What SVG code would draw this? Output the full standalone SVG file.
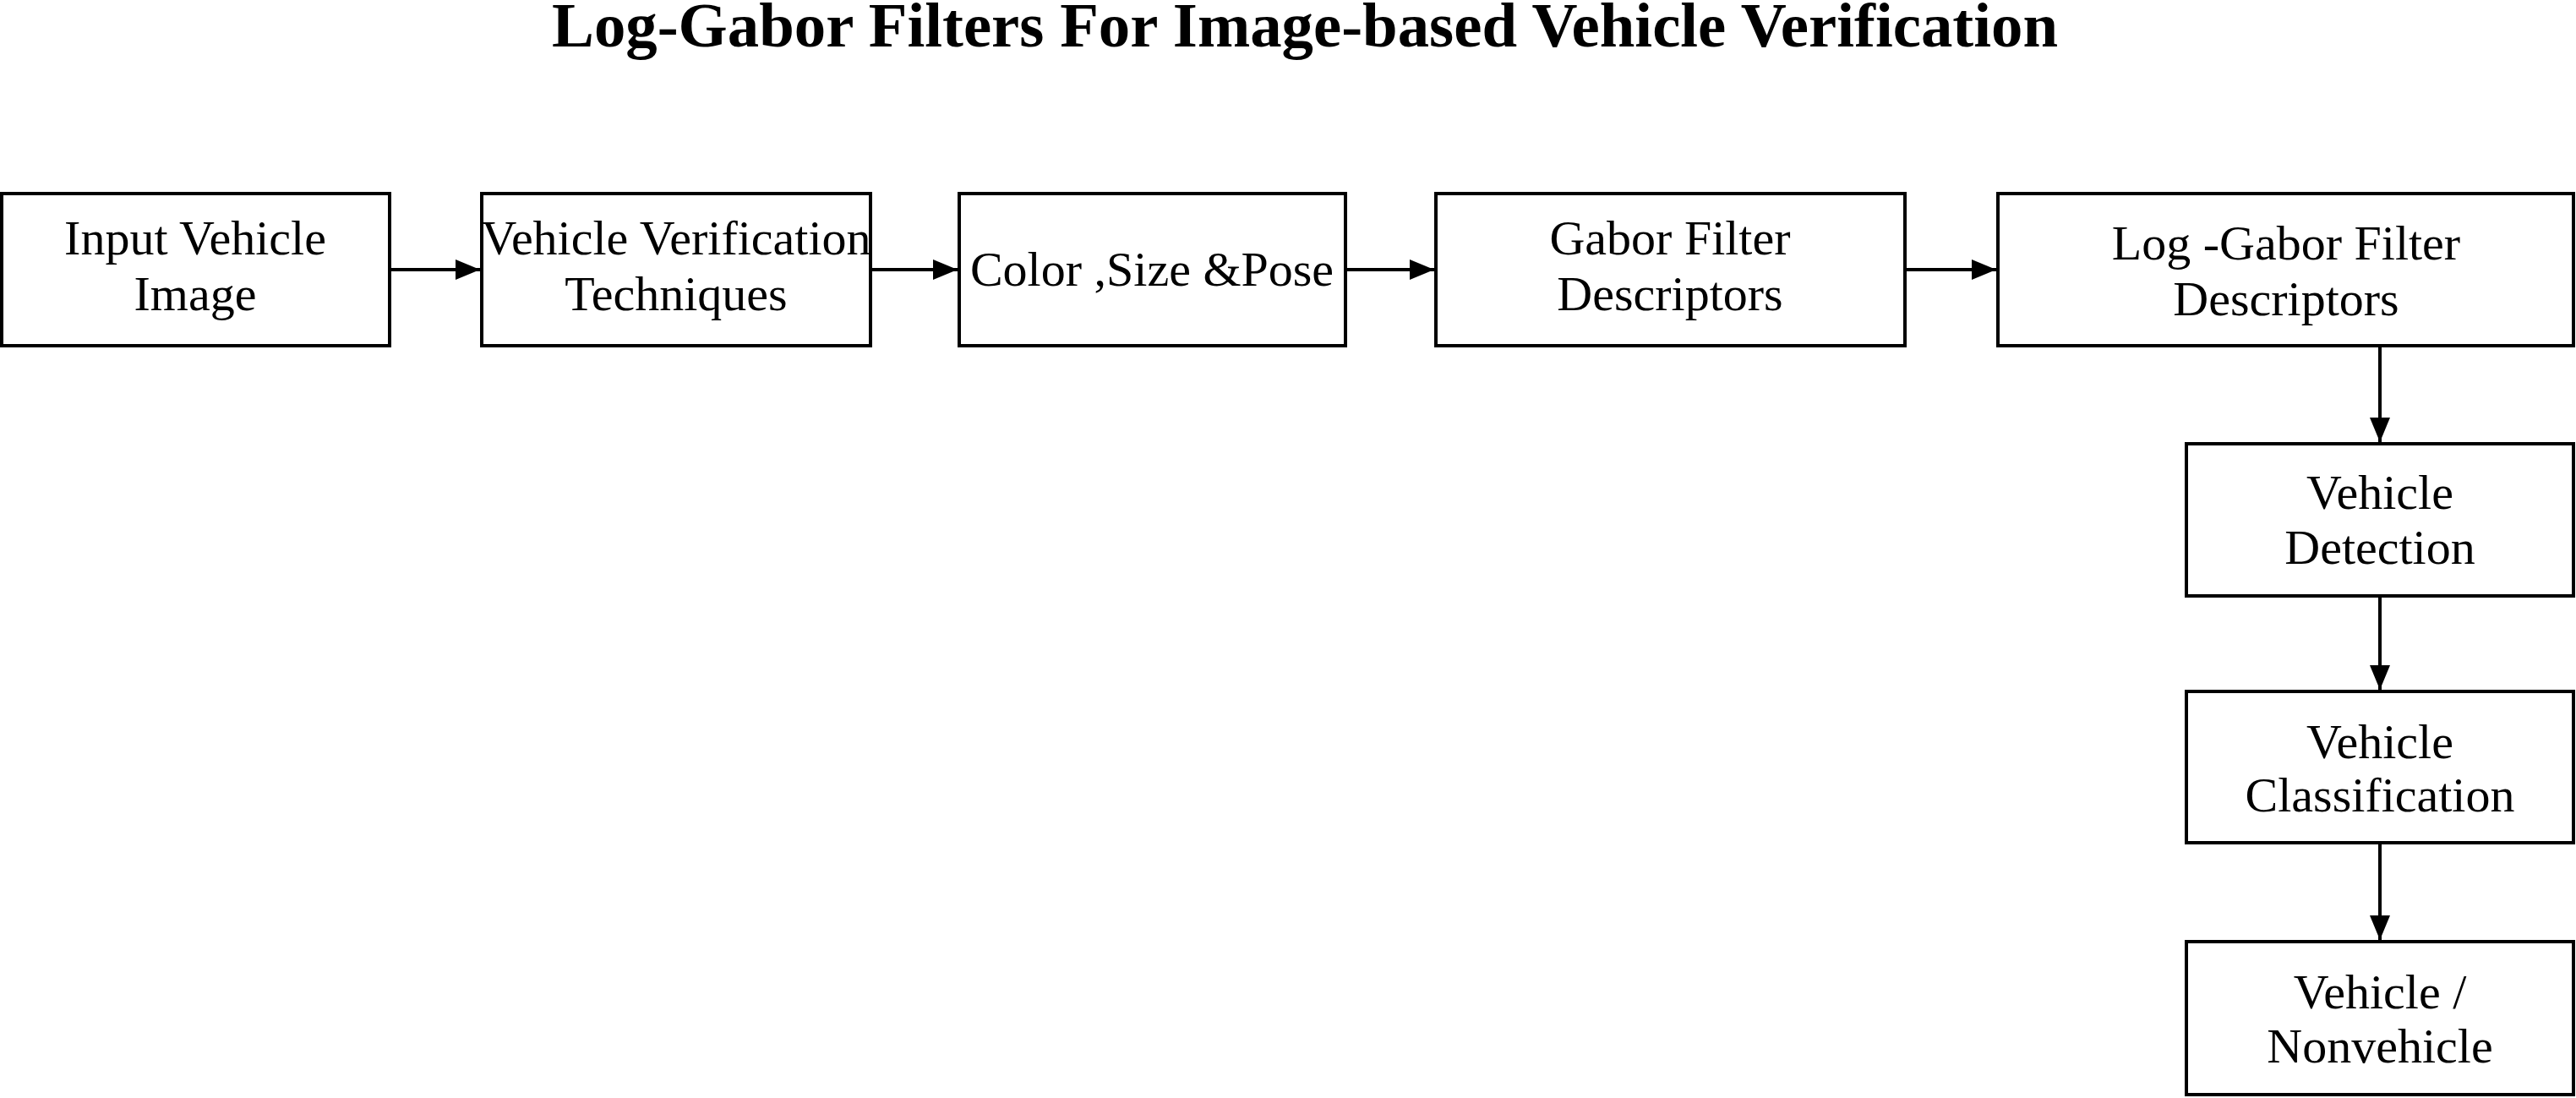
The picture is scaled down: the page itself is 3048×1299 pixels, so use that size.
<svg xmlns="http://www.w3.org/2000/svg" width="3048" height="1299" viewBox="0 0 3048 1299">
<style>
.box{fill:#fff;stroke:#000;stroke-width:4}
.t{font-family:"Liberation Serif","Times New Roman",serif;font-size:58px;fill:#000;text-anchor:middle}
.title{font-family:"Liberation Serif","Times New Roman",serif;font-size:73px;font-weight:bold;fill:#000;text-anchor:middle}
.c{stroke:#000;stroke-width:4;fill:none}
</style>
<defs>
<marker id="ah" markerUnits="userSpaceOnUse" markerWidth="30" markerHeight="24" refX="29" refY="12" orient="auto">
<path d="M0,0 L29,12 L0,24 Z" fill="#000"/>
</marker>
</defs>
<rect width="3048" height="1299" fill="#fff"/>
<text class="title" x="1544" y="55" textLength="1782" lengthAdjust="spacingAndGlyphs">Log-Gabor Filters For Image-based Vehicle Verification</text>
<g id="connectors">
<line class="c" x1="461" y1="319" x2="568" y2="319" marker-end="url(#ah)"/>
<line class="c" x1="1030" y1="319" x2="1133" y2="319" marker-end="url(#ah)"/>
<line class="c" x1="1592" y1="319" x2="1697" y2="319" marker-end="url(#ah)"/>
<line class="c" x1="2254" y1="319" x2="2362" y2="319" marker-end="url(#ah)"/>
<line class="c" x1="2816" y1="409" x2="2816" y2="523" marker-end="url(#ah)"/>
<line class="c" x1="2816" y1="705" x2="2816" y2="816" marker-end="url(#ah)"/>
<line class="c" x1="2816" y1="997" x2="2816" y2="1112" marker-end="url(#ah)"/>
</g>
<g id="n1">
<rect class="box" x="2" y="229" width="459" height="180"/>
<text class="t" x="231" y="301">Input Vehicle</text>
<text class="t" x="231" y="367">Image</text>
</g>
<g id="n2">
<rect class="box" x="570" y="229" width="460" height="180"/>
<text class="t" x="800" y="301">Vehicle Verification</text>
<text class="t" x="800" y="367">Techniques</text>
</g>
<g id="n3">
<rect class="box" x="1135" y="229" width="457" height="180"/>
<text class="t" x="1363" y="338">Color ,Size &amp;Pose</text>
</g>
<g id="n4">
<rect class="box" x="1699" y="229" width="555" height="180"/>
<text class="t" x="1976" y="301">Gabor Filter</text>
<text class="t" x="1976" y="367">Descriptors</text>
</g>
<g id="n5">
<rect class="box" x="2364" y="229" width="681" height="180"/>
<text class="t" x="2705" y="307">Log -Gabor Filter</text>
<text class="t" x="2705" y="373">Descriptors</text>
</g>
<g id="n6">
<rect class="box" x="2587" y="525" width="458" height="180"/>
<text class="t" x="2816" y="602">Vehicle</text>
<text class="t" x="2816" y="667">Detection</text>
</g>
<g id="n7">
<rect class="box" x="2587" y="818" width="458" height="179"/>
<text class="t" x="2816" y="897">Vehicle</text>
<text class="t" x="2816" y="960">Classification</text>
</g>
<g id="n8">
<rect class="box" x="2587" y="1114" width="458" height="181"/>
<text class="t" x="2816" y="1193">Vehicle /</text>
<text class="t" x="2816" y="1257">Nonvehicle</text>
</g>
</svg>
